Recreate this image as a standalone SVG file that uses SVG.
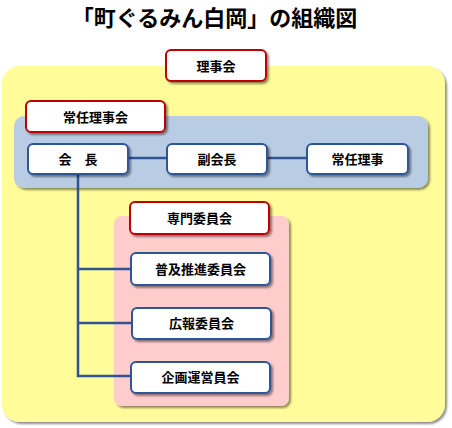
<svg xmlns="http://www.w3.org/2000/svg" width="452" height="428" viewBox="0 0 452 428">
<defs>
<filter id="sh" x="-10%" y="-10%" width="130%" height="140%">
<feGaussianBlur in="SourceAlpha" stdDeviation="1.2"/>
<feOffset dx="2" dy="2" result="b"/>
<feComponentTransfer><feFuncA type="linear" slope="0.45"/></feComponentTransfer>
<feMerge><feMergeNode/><feMergeNode in="SourceGraphic"/></feMerge>
</filter>
</defs>
<style>
.t{font-family:"Noto Sans CJK JP","Noto Sans CJK SC",sans-serif;font-weight:bold;fill:#000;text-anchor:middle}
.lbl{font-size:13px}
.head{fill:#fff;stroke:#C00000;stroke-width:2}
.box{fill:#fff;stroke:#2F5597;stroke-width:2}
.ln{stroke:#2F5597;stroke-width:2.5;fill:none}
</style>
<rect width="452" height="428" fill="#fff"/>
<text class="t" x="214.5" y="26" font-size="22" fill="#222">「町ぐるみん白岡」の組織図</text>

<g id="rijikai-area">
<rect x="2" y="66" width="443" height="356" rx="18" fill="#FFFC99" filter="url(#sh)"/>
</g>
<g id="jonin-area">
<rect x="14" y="116" width="414" height="72" rx="10" fill="#B8CCE4" filter="url(#sh)"/>
</g>
<g id="senmon-area">
<rect x="114" y="216" width="175" height="190" rx="8" fill="#FFCCCC" filter="url(#sh)"/>
</g>

<g id="connectors">
<line class="ln" x1="128" y1="158" x2="167" y2="158"/>
<line class="ln" x1="267" y1="158" x2="307" y2="158"/>
<polyline class="ln" points="78,174 78,376 131,376"/>
<line class="ln" x1="78" y1="269" x2="131" y2="269"/>
<line class="ln" x1="78" y1="323" x2="132" y2="323"/>
</g>

<g id="rijikai">
<rect class="head" x="166" y="50" width="100" height="31" rx="5" filter="url(#sh)"/>
<text class="t lbl" x="216" y="70.5">理事会</text>
</g>
<g id="jonin-rijikai">
<rect class="head" x="26" y="101" width="139" height="31" rx="5" filter="url(#sh)"/>
<text class="t lbl" x="95.5" y="121.5">常任理事会</text>
</g>
<g id="kaicho">
<rect class="box" x="28" y="144" width="100" height="30" rx="5" filter="url(#sh)"/>
<text class="t lbl" x="78" y="163.5">会　長</text>
</g>
<g id="fukukaicho">
<rect class="box" x="167" y="144" width="100" height="30" rx="5" filter="url(#sh)"/>
<text class="t lbl" x="217" y="163.5">副会長</text>
</g>
<g id="jonin-riji">
<rect class="box" x="307" y="144" width="101" height="30" rx="5" filter="url(#sh)"/>
<text class="t lbl" x="357.5" y="163.5">常任理事</text>
</g>
<g id="senmon">
<rect class="head" x="130" y="202" width="139" height="32" rx="5" filter="url(#sh)"/>
<text class="t lbl" x="199.5" y="222.5">専門委員会</text>
</g>
<g id="fukyu">
<rect class="box" x="131" y="253" width="139" height="32" rx="5" filter="url(#sh)"/>
<text class="t lbl" x="200.5" y="273.5">普及推進委員会</text>
</g>
<g id="koho">
<rect class="box" x="132" y="308" width="139" height="31" rx="5" filter="url(#sh)"/>
<text class="t lbl" x="201.5" y="328">広報委員会</text>
</g>
<g id="kikaku">
<rect class="box" x="131" y="362" width="139" height="31" rx="5" filter="url(#sh)"/>
<text class="t lbl" x="200.5" y="382">企画運営員会</text>
</g>
</svg>
